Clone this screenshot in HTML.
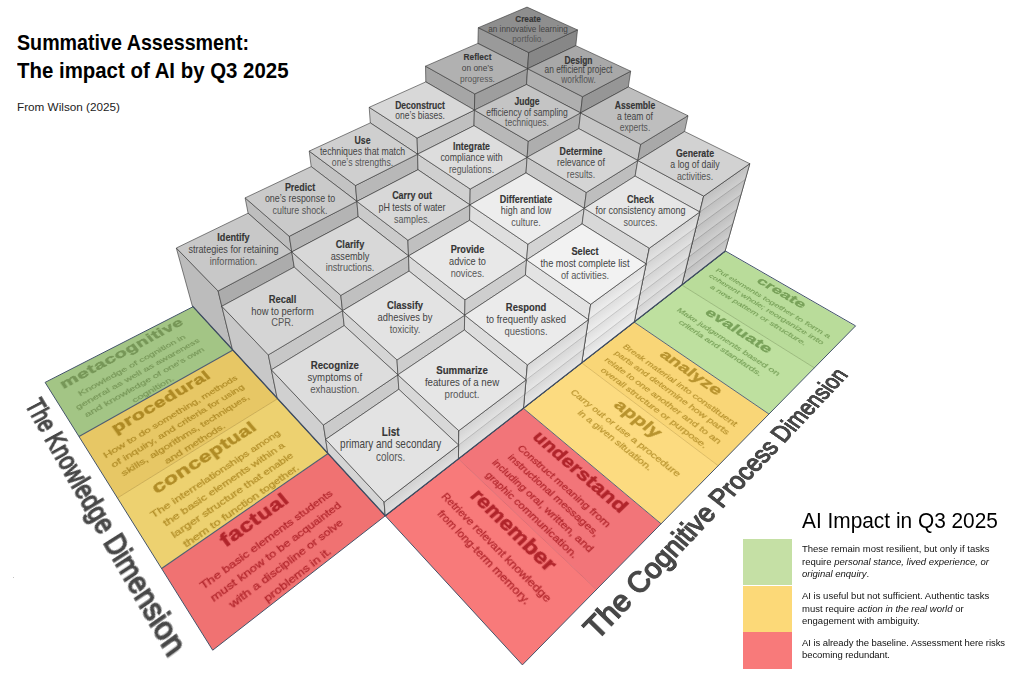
<!DOCTYPE html><html><head><meta charset="utf-8"><title>Summative Assessment</title><style>
html,body{margin:0;padding:0;background:#fff}
body{width:1024px;height:697px;overflow:hidden;position:relative;font-family:"Liberation Sans",sans-serif}
svg{position:absolute;left:0;top:0}
svg text{font-family:"Liberation Sans",sans-serif}
.plane{position:absolute;left:0;top:0;width:0;height:0;transform-origin:0 0}
.cell{position:absolute;text-align:center;white-space:nowrap}
.cell .t{position:absolute;left:0;right:0;top:3.4px;font-weight:bold;font-size:22px;line-height:24px;letter-spacing:0.2px;-webkit-text-stroke:0.7px currentColor}
.cell .dd{position:absolute;left:0;right:0;top:32.7px;font-size:11.8px;line-height:16.6px;-webkit-text-stroke:0.28px currentColor}
.cell.L .dd{line-height:17px;top:32.5px}
.cell.R .dd{line-height:16.3px;top:32.2px}
.cell.R .t{font-size:22.5px}
.cell.L .t{letter-spacing:0.55px}
.axis{position:absolute;font-size:25.8px;line-height:25.8px;color:#484848;white-space:nowrap;transform-origin:0 0;-webkit-text-stroke:1.3px #484848}
.ttl{position:absolute;left:17px;font-weight:bold;color:#000;white-space:nowrap;transform-origin:0 0}
.lg{position:absolute;left:802px;font-size:9.5px;color:#111;white-space:nowrap;line-height:12.6px}
.sw{position:absolute;left:743px;width:48.5px}
</style></head><body><svg width="1024" height="697" viewBox="0 0 1024 697"><defs><linearGradient id="g5_0" gradientUnits="userSpaceOnUse" x1="685.1" y1="271.3" x2="690.5" y2="278.3"><stop offset="0" stop-color="#c0c0c0"/><stop offset="1" stop-color="#d0d0d0"/></linearGradient><linearGradient id="g5_1" gradientUnits="userSpaceOnUse" x1="688.6" y1="257.1" x2="694.2" y2="264.5"><stop offset="0" stop-color="#c0c0c0"/><stop offset="1" stop-color="#d0d0d0"/></linearGradient><linearGradient id="g5_2" gradientUnits="userSpaceOnUse" x1="692.2" y1="242.5" x2="697.9" y2="250.2"><stop offset="0" stop-color="#c0c0c0"/><stop offset="1" stop-color="#d0d0d0"/></linearGradient><linearGradient id="g5_3" gradientUnits="userSpaceOnUse" x1="695.9" y1="227.5" x2="701.8" y2="235.6"><stop offset="0" stop-color="#c0c0c0"/><stop offset="1" stop-color="#d0d0d0"/></linearGradient><linearGradient id="g5_4" gradientUnits="userSpaceOnUse" x1="699.8" y1="212.0" x2="705.8" y2="220.5"><stop offset="0" stop-color="#c0c0c0"/><stop offset="1" stop-color="#d0d0d0"/></linearGradient><linearGradient id="g5_5" gradientUnits="userSpaceOnUse" x1="703.7" y1="196.1" x2="709.9" y2="204.9"><stop offset="0" stop-color="#c0c0c0"/><stop offset="1" stop-color="#d0d0d0"/></linearGradient><linearGradient id="g4_0" gradientUnits="userSpaceOnUse" x1="637.0" y1="308.2" x2="642.7" y2="315.5"><stop offset="0" stop-color="#d3d3d3"/><stop offset="1" stop-color="#e3e3e3"/></linearGradient><linearGradient id="g4_1" gradientUnits="userSpaceOnUse" x1="640.0" y1="293.9" x2="645.8" y2="301.6"><stop offset="0" stop-color="#d3d3d3"/><stop offset="1" stop-color="#e3e3e3"/></linearGradient><linearGradient id="g4_2" gradientUnits="userSpaceOnUse" x1="643.0" y1="279.1" x2="649.0" y2="287.2"><stop offset="0" stop-color="#d3d3d3"/><stop offset="1" stop-color="#e3e3e3"/></linearGradient><linearGradient id="g4_3" gradientUnits="userSpaceOnUse" x1="646.1" y1="263.9" x2="652.3" y2="272.4"><stop offset="0" stop-color="#d3d3d3"/><stop offset="1" stop-color="#e3e3e3"/></linearGradient><linearGradient id="g4_4" gradientUnits="userSpaceOnUse" x1="649.3" y1="248.2" x2="655.6" y2="257.0"><stop offset="0" stop-color="#d3d3d3"/><stop offset="1" stop-color="#e3e3e3"/></linearGradient><linearGradient id="g3_0" gradientUnits="userSpaceOnUse" x1="583.8" y1="349.0" x2="589.8" y2="356.7"><stop offset="0" stop-color="#dedede"/><stop offset="1" stop-color="#eeeeee"/></linearGradient><linearGradient id="g3_1" gradientUnits="userSpaceOnUse" x1="586.0" y1="334.6" x2="592.2" y2="342.7"><stop offset="0" stop-color="#dedede"/><stop offset="1" stop-color="#eeeeee"/></linearGradient><linearGradient id="g3_2" gradientUnits="userSpaceOnUse" x1="588.3" y1="319.7" x2="594.6" y2="328.2"><stop offset="0" stop-color="#dedede"/><stop offset="1" stop-color="#eeeeee"/></linearGradient><linearGradient id="g3_3" gradientUnits="userSpaceOnUse" x1="590.7" y1="304.3" x2="597.2" y2="313.2"><stop offset="0" stop-color="#dedede"/><stop offset="1" stop-color="#eeeeee"/></linearGradient><linearGradient id="g2_0" gradientUnits="userSpaceOnUse" x1="524.7" y1="394.3" x2="531.0" y2="402.5"><stop offset="0" stop-color="#d7d7d7"/><stop offset="1" stop-color="#e7e7e7"/></linearGradient><linearGradient id="g2_1" gradientUnits="userSpaceOnUse" x1="526.0" y1="379.9" x2="532.5" y2="388.5"><stop offset="0" stop-color="#d7d7d7"/><stop offset="1" stop-color="#e7e7e7"/></linearGradient><linearGradient id="g2_2" gradientUnits="userSpaceOnUse" x1="527.4" y1="364.9" x2="534.0" y2="373.9"><stop offset="0" stop-color="#d7d7d7"/><stop offset="1" stop-color="#e7e7e7"/></linearGradient><linearGradient id="g1_0" gradientUnits="userSpaceOnUse" x1="458.6" y1="445.1" x2="465.2" y2="453.7"><stop offset="0" stop-color="#d3d3d3"/><stop offset="1" stop-color="#e3e3e3"/></linearGradient><linearGradient id="g1_1" gradientUnits="userSpaceOnUse" x1="458.8" y1="430.7" x2="465.6" y2="439.7"><stop offset="0" stop-color="#d3d3d3"/><stop offset="1" stop-color="#e3e3e3"/></linearGradient><linearGradient id="g0_0" gradientUnits="userSpaceOnUse" x1="384.1" y1="502.1" x2="391.2" y2="511.3"><stop offset="0" stop-color="#d0d0d0"/><stop offset="1" stop-color="#e0e0e0"/></linearGradient></defs><polygon points="212.7,650.2 385.3,515.8 328.1,453.5 161.6,568.5" fill="#F07272"/>
<polygon points="161.6,568.5 328.1,453.5 277.7,398.7 117.4,498.0" fill="#EDD170"/>
<polygon points="117.4,498.0 277.7,398.7 233.0,350.1 79.0,436.5" fill="#E7C765"/>
<polygon points="79.0,436.5 233.0,350.1 193.1,306.7 45.1,382.4" fill="#A3C585"/>
<polygon points="522.4,664.9 596.4,589.6 458.4,458.9 385.3,515.8" fill="#F87A7A"/>
<polygon points="596.4,589.6 661.1,523.8 523.4,408.3 458.4,458.9" fill="#F27579"/>
<polygon points="661.1,523.8 718.2,465.7 581.7,362.9 523.4,408.3" fill="#FCDB80"/>
<polygon points="718.2,465.7 768.9,414.0 634.2,322.1 581.7,362.9" fill="#F9D677"/>
<polygon points="768.9,414.0 814.3,367.8 681.8,285.0 634.2,322.1" fill="#BEE09F"/>
<polygon points="814.3,367.8 855.2,326.3 725.0,251.3 681.8,285.0" fill="#B9DC9A"/>
<line x1="161.6" y1="568.5" x2="328.1" y2="453.5" stroke="#4f5d70" stroke-width="1.1"/>
<line x1="117.4" y1="498.0" x2="277.7" y2="398.7" stroke="#c4a448" stroke-width="0.8"/>
<line x1="79.0" y1="436.5" x2="233.0" y2="350.1" stroke="#4f5d70" stroke-width="1.1"/>
<line x1="596.4" y1="589.6" x2="458.4" y2="458.9" stroke="#d6636a" stroke-width="0.8"/>
<line x1="661.1" y1="523.8" x2="523.4" y2="408.3" stroke="#5a6678" stroke-width="1.0"/>
<line x1="718.2" y1="465.7" x2="581.7" y2="362.9" stroke="#d6b256" stroke-width="0.8"/>
<line x1="768.9" y1="414.0" x2="634.2" y2="322.1" stroke="#5a6678" stroke-width="1.0"/>
<line x1="814.3" y1="367.8" x2="681.8" y2="285.0" stroke="#8fb070" stroke-width="0.8"/>
<polygon points="212.7,650.2 385.3,515.8 193.1,306.7 45.1,382.4" fill="none" stroke="#44546a" stroke-width="1.0" stroke-linejoin="round"/>
<polygon points="522.4,664.9 855.6,325.9 725.4,251.0 385.3,515.8" fill="none" stroke="#44546a" stroke-width="1.0" stroke-linejoin="round"/>
<polygon points="527.6,68.7 477.9,43.4 478.3,27.7 528.7,52.5" fill="#9a9a9a" stroke="#303030" stroke-width="0.6" stroke-linejoin="round"/>
<polygon points="527.6,68.7 575.8,45.7 577.5,29.9 528.7,52.5" fill="#878787" stroke="#303030" stroke-width="0.6" stroke-linejoin="round"/>
<polygon points="528.7,52.5 577.5,29.9 527.0,7.1 478.3,27.7" fill="#8e8e8e" stroke="#303030" stroke-width="0.6" stroke-linejoin="round"/>
<polygon points="474.4,110.1 425.8,81.9 425.5,66.2 474.8,93.9" fill="#a6a6a6" stroke="#303030" stroke-width="0.6" stroke-linejoin="round"/>
<polygon points="474.4,110.1 526.5,84.5 527.6,68.7 474.8,93.9" fill="#9e9e9e" stroke="#303030" stroke-width="0.6" stroke-linejoin="round"/>
<polygon points="474.8,93.9 527.6,68.7 477.9,43.4 425.5,66.2" fill="#b1b1b1" stroke="#303030" stroke-width="0.6" stroke-linejoin="round"/>
<polygon points="580.6,112.9 526.5,84.5 527.6,68.7 582.5,96.7" fill="#afafaf" stroke="#303030" stroke-width="0.6" stroke-linejoin="round"/>
<polygon points="580.6,112.9 628.3,87.0 630.7,71.2 582.5,96.7" fill="#969696" stroke="#303030" stroke-width="0.6" stroke-linejoin="round"/>
<polygon points="582.5,96.7 630.7,71.2 575.8,45.7 527.6,68.7" fill="#a8a8a8" stroke="#303030" stroke-width="0.6" stroke-linejoin="round"/>
<polygon points="417.6,154.2 370.3,122.9 369.2,107.3 417.1,138.1" fill="#cbcbcb" stroke="#303030" stroke-width="0.6" stroke-linejoin="round"/>
<polygon points="417.6,154.2 474.0,125.7 474.4,110.1 417.1,138.1" fill="#c0c0c0" stroke="#303030" stroke-width="0.6" stroke-linejoin="round"/>
<polygon points="417.1,138.1 474.4,110.1 425.8,81.9 369.2,107.3" fill="#d8d8d8" stroke="#303030" stroke-width="0.6" stroke-linejoin="round"/>
<polygon points="527.1,157.3 474.0,125.7 474.4,110.1 528.3,141.3" fill="#b8b8b8" stroke="#303030" stroke-width="0.6" stroke-linejoin="round"/>
<polygon points="527.1,157.3 578.8,128.6 580.6,112.9 528.3,141.3" fill="#aeaeae" stroke="#303030" stroke-width="0.6" stroke-linejoin="round"/>
<polygon points="528.3,141.3 580.6,112.9 526.5,84.5 474.4,110.1" fill="#c4c4c4" stroke="#303030" stroke-width="0.6" stroke-linejoin="round"/>
<polygon points="637.8,160.5 578.8,128.6 580.6,112.9 640.7,144.4" fill="#c6c6c6" stroke="#303030" stroke-width="0.6" stroke-linejoin="round"/>
<polygon points="637.8,160.5 684.6,131.5 688.0,115.7 640.7,144.4" fill="#a9a9a9" stroke="#303030" stroke-width="0.6" stroke-linejoin="round"/>
<polygon points="640.7,144.4 688.0,115.7 628.3,87.0 580.6,112.9" fill="#bebebe" stroke="#303030" stroke-width="0.6" stroke-linejoin="round"/>
<polygon points="356.9,201.4 311.2,166.6 309.2,151.1 355.5,185.5" fill="#c3c3c3" stroke="#303030" stroke-width="0.6" stroke-linejoin="round"/>
<polygon points="356.9,201.4 418.0,169.7 417.6,154.2 355.5,185.5" fill="#b8b8b8" stroke="#303030" stroke-width="0.6" stroke-linejoin="round"/>
<polygon points="355.5,185.5 417.6,154.2 370.3,122.9 309.2,151.1" fill="#cfcfcf" stroke="#303030" stroke-width="0.6" stroke-linejoin="round"/>
<polygon points="469.9,204.9 418.0,169.7 417.6,154.2 470.2,189.0" fill="#d0d0d0" stroke="#303030" stroke-width="0.6" stroke-linejoin="round"/>
<polygon points="469.9,204.9 526.0,172.9 527.1,157.3 470.2,189.0" fill="#c5c5c5" stroke="#303030" stroke-width="0.6" stroke-linejoin="round"/>
<polygon points="470.2,189.0 527.1,157.3 474.0,125.7 417.6,154.2" fill="#dddddd" stroke="#303030" stroke-width="0.6" stroke-linejoin="round"/>
<polygon points="584.2,208.4 526.0,172.9 527.1,157.3 586.3,192.5" fill="#c8c8c8" stroke="#303030" stroke-width="0.6" stroke-linejoin="round"/>
<polygon points="584.2,208.4 635.1,176.1 637.8,160.5 586.3,192.5" fill="#bebebe" stroke="#303030" stroke-width="0.6" stroke-linejoin="round"/>
<polygon points="586.3,192.5 637.8,160.5 578.8,128.6 527.1,157.3" fill="#d5d5d5" stroke="#303030" stroke-width="0.6" stroke-linejoin="round"/>
<polygon points="699.8,212.0 635.1,176.1 637.8,160.5 703.7,196.1" fill="#dadada" stroke="#303030" stroke-width="0.6" stroke-linejoin="round"/>
<polygon points="681.8,285.0 725.0,251.3 749.8,163.7 703.7,196.1" fill="#c9c9c9" stroke="#303030" stroke-width="0.6" stroke-linejoin="round"/>
<polygon points="681.8,285.0 725.0,251.3 728.9,237.7 685.1,271.3" fill="url(#g5_0)"/>
<polygon points="685.1,271.3 728.9,237.7 732.8,223.8 688.6,257.1" fill="url(#g5_1)"/>
<polygon points="688.6,257.1 732.8,223.8 736.9,209.4 692.2,242.5" fill="url(#g5_2)"/>
<polygon points="692.2,242.5 736.9,209.4 741.0,194.6 695.9,227.5" fill="url(#g5_3)"/>
<polygon points="695.9,227.5 741.0,194.6 745.3,179.4 699.8,212.0" fill="url(#g5_4)"/>
<polygon points="699.8,212.0 745.3,179.4 749.8,163.7 703.7,196.1" fill="url(#g5_5)"/>
<line x1="685.1" y1="271.3" x2="728.9" y2="237.7" stroke="#8f8f8f" stroke-width="0.6"/>
<line x1="688.6" y1="257.1" x2="732.8" y2="223.8" stroke="#8f8f8f" stroke-width="0.6"/>
<line x1="692.2" y1="242.5" x2="736.9" y2="209.4" stroke="#8f8f8f" stroke-width="0.6"/>
<line x1="695.9" y1="227.5" x2="741.0" y2="194.6" stroke="#8f8f8f" stroke-width="0.6"/>
<line x1="699.8" y1="212.0" x2="745.3" y2="179.4" stroke="#8f8f8f" stroke-width="0.6"/>
<polygon points="681.8,285.0 725.0,251.3 749.8,163.7 703.7,196.1" fill="none" stroke="#303030" stroke-width="0.6" stroke-linejoin="round"/>
<polygon points="703.7,196.1 749.8,163.7 684.6,131.5 637.8,160.5" fill="#d2d2d2" stroke="#303030" stroke-width="0.6" stroke-linejoin="round"/>
<polygon points="291.8,251.9 248.1,213.2 245.1,197.9 289.3,236.3" fill="#bebebe" stroke="#303030" stroke-width="0.6" stroke-linejoin="round"/>
<polygon points="291.8,251.9 358.2,216.7 356.9,201.4 289.3,236.3" fill="#b4b4b4" stroke="#303030" stroke-width="0.6" stroke-linejoin="round"/>
<polygon points="289.3,236.3 356.9,201.4 311.2,166.6 245.1,197.9" fill="#cacaca" stroke="#303030" stroke-width="0.6" stroke-linejoin="round"/>
<polygon points="408.5,255.9 358.2,216.7 356.9,201.4 407.9,240.2" fill="#cbcbcb" stroke="#303030" stroke-width="0.6" stroke-linejoin="round"/>
<polygon points="408.5,255.9 469.6,220.3 469.9,204.9 407.9,240.2" fill="#c0c0c0" stroke="#303030" stroke-width="0.6" stroke-linejoin="round"/>
<polygon points="407.9,240.2 469.9,204.9 418.0,169.7 356.9,201.4" fill="#d8d8d8" stroke="#303030" stroke-width="0.6" stroke-linejoin="round"/>
<polygon points="526.6,259.9 469.6,220.3 469.9,204.9 527.9,244.2" fill="#dfdfdf" stroke="#303030" stroke-width="0.6" stroke-linejoin="round"/>
<polygon points="526.6,259.9 582.1,223.9 584.2,208.4 527.9,244.2" fill="#d3d3d3" stroke="#303030" stroke-width="0.6" stroke-linejoin="round"/>
<polygon points="527.9,244.2 584.2,208.4 526.0,172.9 469.9,204.9" fill="#ededed" stroke="#303030" stroke-width="0.6" stroke-linejoin="round"/>
<polygon points="646.1,263.9 582.1,223.9 584.2,208.4 649.3,248.2" fill="#d8d8d8" stroke="#303030" stroke-width="0.6" stroke-linejoin="round"/>
<polygon points="634.2,322.1 681.8,285.0 699.8,212.0 649.3,248.2" fill="#dcdcdc" stroke="#303030" stroke-width="0.6" stroke-linejoin="round"/>
<polygon points="634.2,322.1 681.8,285.0 685.1,271.3 637.0,308.2" fill="url(#g4_0)"/>
<polygon points="637.0,308.2 685.1,271.3 688.6,257.1 640.0,293.9" fill="url(#g4_1)"/>
<polygon points="640.0,293.9 688.6,257.1 692.2,242.5 643.0,279.1" fill="url(#g4_2)"/>
<polygon points="643.0,279.1 692.2,242.5 695.9,227.5 646.1,263.9" fill="url(#g4_3)"/>
<polygon points="646.1,263.9 695.9,227.5 699.8,212.0 649.3,248.2" fill="url(#g4_4)"/>
<line x1="637.0" y1="308.2" x2="685.1" y2="271.3" stroke="#a2a2a2" stroke-width="0.6"/>
<line x1="640.0" y1="293.9" x2="688.6" y2="257.1" stroke="#a2a2a2" stroke-width="0.6"/>
<line x1="643.0" y1="279.1" x2="692.2" y2="242.5" stroke="#a2a2a2" stroke-width="0.6"/>
<line x1="646.1" y1="263.9" x2="695.9" y2="227.5" stroke="#a2a2a2" stroke-width="0.6"/>
<polygon points="634.2,322.1 681.8,285.0 699.8,212.0 649.3,248.2" fill="none" stroke="#303030" stroke-width="0.6" stroke-linejoin="round"/>
<polygon points="649.3,248.2 699.8,212.0 635.1,176.1 584.2,208.4" fill="#e6e6e6" stroke="#303030" stroke-width="0.6" stroke-linejoin="round"/>
<polygon points="232.4,349.4 192.3,305.9 176.3,248.0 218.1,291.0" fill="#bcbcbc" stroke="#303030" stroke-width="0.6" stroke-linejoin="round"/>
<polygon points="221.8,306.3 294.2,267.1 291.8,251.9 218.1,291.0" fill="#acacac" stroke="#303030" stroke-width="0.6" stroke-linejoin="round"/>
<polygon points="218.1,291.0 291.8,251.9 248.1,213.2 176.3,248.0" fill="#c8c8c8" stroke="#303030" stroke-width="0.6" stroke-linejoin="round"/>
<polygon points="342.5,310.7 294.2,267.1 291.8,251.9 340.8,295.4" fill="#cbcbcb" stroke="#303030" stroke-width="0.6" stroke-linejoin="round"/>
<polygon points="342.5,310.7 409.1,271.1 408.5,255.9 340.8,295.4" fill="#c0c0c0" stroke="#303030" stroke-width="0.6" stroke-linejoin="round"/>
<polygon points="340.8,295.4 408.5,255.9 358.2,216.7 291.8,251.9" fill="#d8d8d8" stroke="#303030" stroke-width="0.6" stroke-linejoin="round"/>
<polygon points="464.7,315.2 409.1,271.1 408.5,255.9 465.0,299.8" fill="#dadada" stroke="#303030" stroke-width="0.6" stroke-linejoin="round"/>
<polygon points="464.7,315.2 525.4,275.1 526.6,259.9 465.0,299.8" fill="#cecece" stroke="#303030" stroke-width="0.6" stroke-linejoin="round"/>
<polygon points="465.0,299.8 526.6,259.9 469.6,220.3 408.5,255.9" fill="#e8e8e8" stroke="#303030" stroke-width="0.6" stroke-linejoin="round"/>
<polygon points="588.3,319.7 525.4,275.1 526.6,259.9 590.7,304.3" fill="#e3e3e3" stroke="#303030" stroke-width="0.6" stroke-linejoin="round"/>
<polygon points="581.7,362.9 634.2,322.1 646.1,263.9 590.7,304.3" fill="#e7e7e7" stroke="#303030" stroke-width="0.6" stroke-linejoin="round"/>
<polygon points="581.7,362.9 634.2,322.1 637.0,308.2 583.8,349.0" fill="url(#g3_0)"/>
<polygon points="583.8,349.0 637.0,308.2 640.0,293.9 586.0,334.6" fill="url(#g3_1)"/>
<polygon points="586.0,334.6 640.0,293.9 643.0,279.1 588.3,319.7" fill="url(#g3_2)"/>
<polygon points="588.3,319.7 643.0,279.1 646.1,263.9 590.7,304.3" fill="url(#g3_3)"/>
<line x1="583.8" y1="349.0" x2="637.0" y2="308.2" stroke="#adadad" stroke-width="0.6"/>
<line x1="586.0" y1="334.6" x2="640.0" y2="293.9" stroke="#adadad" stroke-width="0.6"/>
<line x1="588.3" y1="319.7" x2="643.0" y2="279.1" stroke="#adadad" stroke-width="0.6"/>
<polygon points="581.7,362.9 634.2,322.1 646.1,263.9 590.7,304.3" fill="none" stroke="#303030" stroke-width="0.6" stroke-linejoin="round"/>
<polygon points="590.7,304.3 646.1,263.9 582.1,223.9 526.6,259.9" fill="#f2f2f2" stroke="#303030" stroke-width="0.6" stroke-linejoin="round"/>
<polygon points="277.2,398.2 232.4,349.4 221.8,306.3 268.3,354.9" fill="#c8c8c8" stroke="#303030" stroke-width="0.6" stroke-linejoin="round"/>
<polygon points="271.4,369.8 344.2,325.6 342.5,310.7 268.3,354.9" fill="#c7c7c7" stroke="#303030" stroke-width="0.6" stroke-linejoin="round"/>
<polygon points="268.3,354.9 342.5,310.7 294.2,267.1 221.8,306.3" fill="#d5d5d5" stroke="#303030" stroke-width="0.6" stroke-linejoin="round"/>
<polygon points="397.9,374.8 344.2,325.6 342.5,310.7 397.0,359.9" fill="#d5d5d5" stroke="#303030" stroke-width="0.6" stroke-linejoin="round"/>
<polygon points="397.9,374.8 464.4,330.0 464.7,315.2 397.0,359.9" fill="#cecece" stroke="#303030" stroke-width="0.6" stroke-linejoin="round"/>
<polygon points="397.0,359.9 464.7,315.2 409.1,271.1 342.5,310.7" fill="#e3e3e3" stroke="#303030" stroke-width="0.6" stroke-linejoin="round"/>
<polygon points="526.0,379.9 464.4,330.0 464.7,315.2 527.4,364.9" fill="#dddddd" stroke="#303030" stroke-width="0.6" stroke-linejoin="round"/>
<polygon points="523.4,408.3 581.7,362.9 588.3,319.7 527.4,364.9" fill="#e0e0e0" stroke="#303030" stroke-width="0.6" stroke-linejoin="round"/>
<polygon points="523.4,408.3 581.7,362.9 583.8,349.0 524.7,394.3" fill="url(#g2_0)"/>
<polygon points="524.7,394.3 583.8,349.0 586.0,334.6 526.0,379.9" fill="url(#g2_1)"/>
<polygon points="526.0,379.9 586.0,334.6 588.3,319.7 527.4,364.9" fill="url(#g2_2)"/>
<line x1="524.7" y1="394.3" x2="583.8" y2="349.0" stroke="#a6a6a6" stroke-width="0.6"/>
<line x1="526.0" y1="379.9" x2="586.0" y2="334.6" stroke="#a6a6a6" stroke-width="0.6"/>
<polygon points="523.4,408.3 581.7,362.9 588.3,319.7 527.4,364.9" fill="none" stroke="#303030" stroke-width="0.6" stroke-linejoin="round"/>
<polygon points="527.4,364.9 588.3,319.7 525.4,275.1 464.7,315.2" fill="#ebebeb" stroke="#303030" stroke-width="0.6" stroke-linejoin="round"/>
<polygon points="327.8,453.3 277.2,398.2 271.4,369.8 323.4,425.0" fill="#d0d0d0" stroke="#303030" stroke-width="0.6" stroke-linejoin="round"/>
<polygon points="325.7,439.4 398.8,389.3 397.9,374.8 323.4,425.0" fill="#cbcbcb" stroke="#303030" stroke-width="0.6" stroke-linejoin="round"/>
<polygon points="323.4,425.0 397.9,374.8 344.2,325.6 271.4,369.8" fill="#dddddd" stroke="#303030" stroke-width="0.6" stroke-linejoin="round"/>
<polygon points="458.6,445.1 398.8,389.3 397.9,374.8 458.8,430.7" fill="#d8d8d8" stroke="#303030" stroke-width="0.6" stroke-linejoin="round"/>
<polygon points="458.4,458.9 523.4,408.3 526.0,379.9 458.8,430.7" fill="#dcdcdc" stroke="#303030" stroke-width="0.6" stroke-linejoin="round"/>
<polygon points="458.4,458.9 523.4,408.3 524.7,394.3 458.6,445.1" fill="url(#g1_0)"/>
<polygon points="458.6,445.1 524.7,394.3 526.0,379.9 458.8,430.7" fill="url(#g1_1)"/>
<line x1="458.6" y1="445.1" x2="524.7" y2="394.3" stroke="#a2a2a2" stroke-width="0.6"/>
<polygon points="458.4,458.9 523.4,408.3 526.0,379.9 458.8,430.7" fill="none" stroke="#303030" stroke-width="0.6" stroke-linejoin="round"/>
<polygon points="458.8,430.7 526.0,379.9 464.4,330.0 397.9,374.8" fill="#e6e6e6" stroke="#303030" stroke-width="0.6" stroke-linejoin="round"/>
<polygon points="385.3,515.8 327.8,453.3 325.7,439.4 384.1,502.1" fill="#d5d5d5" stroke="#303030" stroke-width="0.6" stroke-linejoin="round"/>
<polygon points="385.3,515.8 458.4,458.9 458.6,445.1 384.1,502.1" fill="#d9d9d9" stroke="#303030" stroke-width="0.6" stroke-linejoin="round"/>
<polygon points="385.3,515.8 458.4,458.9 458.6,445.1 384.1,502.1" fill="url(#g0_0)"/>
<polygon points="385.3,515.8 458.4,458.9 458.6,445.1 384.1,502.1" fill="none" stroke="#303030" stroke-width="0.6" stroke-linejoin="round"/>
<polygon points="384.1,502.1 458.6,445.1 398.8,389.3 325.7,439.4" fill="#e3e3e3" stroke="#303030" stroke-width="0.6" stroke-linejoin="round"/>
<line x1="385.3" y1="515.8" x2="725.4" y2="251.0" stroke="#3f4d63" stroke-width="1.3"/>
<line x1="385.3" y1="515.8" x2="192.3" y2="305.9" stroke="#3f4d63" stroke-width="1.3"/>
<g transform="translate(390.7,435.8) scale(0.84,1)" font-size="11.85" text-anchor="middle"><text font-weight="bold" fill="#353535" stroke="#353535" stroke-width="0.15">List</text><text y="12.65" fill="#444444">primary and secondary</text><text y="25.30" fill="#565656">colors.</text></g>
<g transform="translate(462.0,373.7) scale(0.84,1)" font-size="11.54" text-anchor="middle"><text font-weight="bold" fill="#353535" stroke="#353535" stroke-width="0.15">Summarize</text><text y="11.95" fill="#444444">features of a new</text><text y="23.90" fill="#565656">product.</text></g>
<g transform="translate(526.0,310.9) scale(0.84,1)" font-size="11.25" text-anchor="middle"><text font-weight="bold" fill="#353535" stroke="#353535" stroke-width="0.15">Respond</text><text y="12.25" fill="#444444">to frequently asked</text><text y="24.50" fill="#565656">questions.</text></g>
<g transform="translate(585.0,255.3) scale(0.84,1)" font-size="10.99" text-anchor="middle"><text font-weight="bold" fill="#353535" stroke="#353535" stroke-width="0.15">Select</text><text y="11.75" fill="#444444">the most complete list</text><text y="23.50" fill="#565656">of activities.</text></g>
<g transform="translate(640.5,202.7) scale(0.84,1)" font-size="10.73" text-anchor="middle"><text font-weight="bold" fill="#353535" stroke="#353535" stroke-width="0.15">Check</text><text y="11.75" fill="#444444">for consistency among</text><text y="23.50" fill="#565656">sources.</text></g>
<g transform="translate(695.0,157.1) scale(0.84,1)" font-size="10.49" text-anchor="middle"><text font-weight="bold" fill="#353535" stroke="#353535" stroke-width="0.15">Generate</text><text y="11.25" fill="#444444">a log of daily</text><text y="22.50" fill="#565656">activities.</text></g>
<g transform="translate(334.8,369.4) scale(0.84,1)" font-size="11.49" text-anchor="middle"><text font-weight="bold" fill="#353535" stroke="#353535" stroke-width="0.15">Recognize</text><text y="11.65" fill="#444444">symptoms of</text><text y="23.30" fill="#565656">exhaustion.</text></g>
<g transform="translate(405.0,308.9) scale(0.84,1)" font-size="11.21" text-anchor="middle"><text font-weight="bold" fill="#353535" stroke="#353535" stroke-width="0.15">Classify</text><text y="12.00" fill="#444444">adhesives by</text><text y="24.00" fill="#565656">toxicity.</text></g>
<g transform="translate(467.5,252.8) scale(0.84,1)" font-size="10.94" text-anchor="middle"><text font-weight="bold" fill="#353535" stroke="#353535" stroke-width="0.15">Provide</text><text y="12.25" fill="#444444">advice to</text><text y="24.50" fill="#565656">novices.</text></g>
<g transform="translate(526.0,202.7) scale(0.84,1)" font-size="10.69" text-anchor="middle"><text font-weight="bold" fill="#353535" stroke="#353535" stroke-width="0.15">Differentiate</text><text y="11.75" fill="#444444">high and low</text><text y="23.50" fill="#565656">culture.</text></g>
<g transform="translate(581.0,155.1) scale(0.84,1)" font-size="10.46" text-anchor="middle"><text font-weight="bold" fill="#353535" stroke="#353535" stroke-width="0.15">Determine</text><text y="11.25" fill="#444444">relevance of</text><text y="22.50" fill="#565656">results.</text></g>
<g transform="translate(635.0,108.6) scale(0.84,1)" font-size="10.23" text-anchor="middle"><text font-weight="bold" fill="#353535" stroke="#353535" stroke-width="0.15">Assemble</text><text y="11.25" fill="#444444">a team of</text><text y="22.50" fill="#565656">experts.</text></g>
<g transform="translate(282.5,302.9) scale(0.84,1)" font-size="11.17" text-anchor="middle"><text font-weight="bold" fill="#353535" stroke="#353535" stroke-width="0.15">Recall</text><text y="11.75" fill="#444444">how to perform</text><text y="23.50" fill="#565656">CPR.</text></g>
<g transform="translate(350.0,247.8) scale(0.84,1)" font-size="10.90" text-anchor="middle"><text font-weight="bold" fill="#353535" stroke="#353535" stroke-width="0.15">Clarify</text><text y="11.75" fill="#444444">assembly</text><text y="23.50" fill="#565656">instructions.</text></g>
<g transform="translate(412.0,199.2) scale(0.84,1)" font-size="10.66" text-anchor="middle"><text font-weight="bold" fill="#353535" stroke="#353535" stroke-width="0.15">Carry out</text><text y="11.75" fill="#444444">pH tests of water</text><text y="23.50" fill="#565656">samples.</text></g>
<g transform="translate(471.5,150.1) scale(0.84,1)" font-size="10.42" text-anchor="middle"><text font-weight="bold" fill="#353535" stroke="#353535" stroke-width="0.15">Integrate</text><text y="11.25" fill="#444444">compliance with</text><text y="22.50" fill="#565656">regulations.</text></g>
<g transform="translate(527.0,105.1) scale(0.84,1)" font-size="10.20" text-anchor="middle"><text font-weight="bold" fill="#353535" stroke="#353535" stroke-width="0.15">Judge</text><text y="10.50" fill="#444444">efficiency of sampling</text><text y="21.00" fill="#565656">techniques.</text></g>
<g transform="translate(578.5,63.5) scale(0.84,1)" font-size="9.99" text-anchor="middle"><text font-weight="bold" fill="#353535" stroke="#353535" stroke-width="0.15">Design</text><text y="10.00" fill="#444444">an efficient project</text><text y="20.00" fill="#565656">workflow.</text></g>
<g transform="translate(233.5,241.3) scale(0.84,1)" font-size="10.86" text-anchor="middle"><text font-weight="bold" fill="#353535" stroke="#353535" stroke-width="0.15">Identify</text><text y="12.00" fill="#444444">strategies for retaining</text><text y="24.00" fill="#565656">information.</text></g>
<g transform="translate(300.0,191.2) scale(0.84,1)" font-size="10.62" text-anchor="middle"><text font-weight="bold" fill="#353535" stroke="#353535" stroke-width="0.15">Predict</text><text y="11.25" fill="#444444">one’s response to</text><text y="22.50" fill="#565656">culture shock.</text></g>
<g transform="translate(362.5,143.6) scale(0.84,1)" font-size="10.38" text-anchor="middle"><text font-weight="bold" fill="#353535" stroke="#353535" stroke-width="0.15">Use</text><text y="11.25" fill="#444444">techniques that match</text><text y="22.50" fill="#565656">one’s strengths.</text></g>
<g transform="translate(420.0,108.5) scale(0.84,1)" font-size="10.16" text-anchor="middle"><text font-weight="bold" fill="#353535" stroke="#353535" stroke-width="0.15">Deconstruct</text><text y="11.00" fill="#444444">one’s biases.</text></g>
<g transform="translate(477.5,60.0) scale(0.84,1)" font-size="9.96" text-anchor="middle"><text font-weight="bold" fill="#353535" stroke="#353535" stroke-width="0.15">Reflect</text><text y="11.00" fill="#444444">on one’s</text><text y="22.00" fill="#565656">progress.</text></g>
<g transform="translate(528.0,21.9) scale(0.84,1)" font-size="9.76" text-anchor="middle"><text font-weight="bold" fill="#353535" stroke="#353535" stroke-width="0.15">Create</text><text y="10.00" fill="#444444">an innovative learning</text><text y="20.00" fill="#565656">portfolio.</text></g></svg>
<div class="plane" style="transform:matrix3d(1.0130978,-0.28585949,0,0.00061643288,0.35091702,0.31547995,0,-0.00068426506,0,0,1,0,385.32811,515.8127,0,1)"><div class="cell L" style="left:-196.0px;top:-100.0px;width:192.0px;height:100.0px;color:#b0242a"><div class="t" style="color:#b0242a">factual</div><div class="dd">The basic elements students<br>must know to be acquainted<br>with a discipline or solve<br>problems in it.</div></div><div class="cell L" style="left:-196.0px;top:-200.0px;width:192.0px;height:100.0px;color:#b08c26"><div class="t" style="color:#b08c26">conceptual</div><div class="dd">The interrelationships among<br>the basic elements within a<br>larger structure that enable<br>them to function together.</div></div><div class="cell L" style="left:-196.0px;top:-300.0px;width:192.0px;height:100.0px;color:#ad8924"><div class="t" style="color:#ad8924">procedural</div><div class="dd">How to do something, methods<br>of inquiry, and criteria for using<br>skills, algorithms, techniques,<br>and methods.</div></div><div class="cell L" style="left:-196.0px;top:-400.0px;width:192.0px;height:100.0px;color:#769657"><div class="t" style="color:#769657">metacognitive</div><div class="dd">Knowledge of cognition in<br>general as well as awareness<br>and knowledge of one’s own<br>cognition.</div></div><div class="axis" style="left:64px;top:202.5px;transform:scaleX(1.173)">The Cognitive Process Dimension</div></div>
<div class="plane" style="transform:matrix3d(0.35091702,0.31547995,0,-0.00068426506,-1.0130978,0.28585949,0,-0.00061643288,0,0,1,0,385.32811,515.8127,0,1)"><div class="cell R" style="left:0.0px;top:-100.0px;width:192.0px;height:100.0px;color:#b0242a"><div class="t" style="color:#b0242a">remember</div><div class="dd">Retrieve relevant knowledge<br>from long-term memory.</div></div><div class="cell R" style="left:0.0px;top:-200.0px;width:192.0px;height:100.0px;color:#b0242a"><div class="t" style="color:#b0242a">understand</div><div class="dd">Construct meaning from<br>instructional messages,<br>including oral, written, and<br>graphic communication.</div></div><div class="cell R" style="left:0.0px;top:-300.0px;width:192.0px;height:100.0px;color:#b8932e"><div class="t" style="color:#b8932e">apply</div><div class="dd">Carry out or use a procedure<br>in a given situation.</div></div><div class="cell R" style="left:0.0px;top:-400.0px;width:192.0px;height:100.0px;color:#b8932e"><div class="t" style="color:#b8932e">analyze</div><div class="dd">Break material into constituent<br>parts and determine how parts<br>relate to one another and to an<br>overall structure or purpose.</div></div><div class="cell R" style="left:0.0px;top:-500.0px;width:192.0px;height:100.0px;color:#78a159"><div class="t" style="color:#78a159">evaluate</div><div class="dd">Make judgements based on<br>criteria and standards.</div></div><div class="cell R" style="left:0.0px;top:-600.0px;width:192.0px;height:100.0px;color:#78a159"><div class="t" style="color:#78a159">create</div><div class="dd">Put elements together to form a<br>coherent whole; reorganize into<br>a new pattern or structure.</div></div><div class="axis" style="left:-385px;top:197.5px;transform:rotate(1.4deg) scaleX(1.187)">The Knowledge Dimension</div></div>
<div style="position:absolute;left:12.6px;top:576.6px;width:1.3px;height:1.3px;background:#b0b0b0;border-radius:1px"></div>
<div class="ttl" style="top:29.5px;font-size:22px;line-height:26px;transform:scaleX(0.894)">Summative Assessment:</div>
<div class="ttl" style="top:57.5px;font-size:22px;line-height:26px;transform:scaleX(0.928)">The impact of AI by Q3 2025</div>
<div class="ttl" style="top:100px;font-size:11px;line-height:14px;font-weight:normal;color:#222;transform:scaleX(1.066)">From Wilson (2025)</div>
<div class="ttl" style="left:802px;top:508px;font-size:21.5px;line-height:26px;font-weight:normal;transform:scaleX(0.97)">AI Impact in Q3 2025</div>
<div class="sw" style="top:539px;height:46px;background:#c5e0a5"></div>
<div class="sw" style="top:585.8px;height:45.8px;background:#fcd978"></div>
<div class="sw" style="top:632.4px;height:36.6px;background:#f87a7a"></div>
<div class="lg" style="top:543px">These remain most resilient, but only if tasks<br>require <i>personal stance, lived experience, or</i><br><i>original enquiry</i>.</div>
<div class="lg" style="top:590px">AI is useful but not sufficient. Authentic tasks<br>must require <i>action in the real world</i> or<br>engagement with ambiguity.</div>
<div class="lg" style="top:636.5px;letter-spacing:-0.07px">AI is already the baseline. Assessment here risks<br>becoming redundant.</div>
</body></html>
